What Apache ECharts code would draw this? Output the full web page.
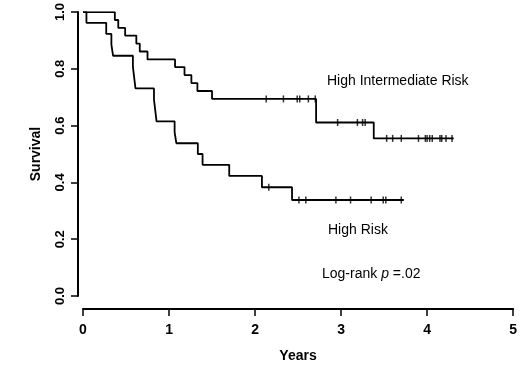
<!DOCTYPE html>
<html>
<head>
<meta charset="utf-8">
<script src="https://cdn.jsdelivr.net/npm/echarts@6/dist/echarts.min.js"></script>
<style>html,body{margin:0;padding:0;background:#fff}#c{width:520px;height:370px}</style>
</head>
<body>
<div id="c"></div>
<script>
// High Intermediate Risk: event times (years) and survival after each step
var hiTimes = [0, 0.37, 0.41, 0.49, 0.62, 0.66, 0.75, 1.07, 1.18, 1.26, 1.33, 1.50, 2.71, 3.38, 4.31];
var hiSurv  = [1.0, 0.972, 0.944, 0.917, 0.889, 0.861, 0.833, 0.806, 0.778, 0.750, 0.722, 0.694, 0.611, 0.555, 0.555];
// High Risk
var hrTimes = [0, 0.04, 0.27, 0.33, 0.35, 0.58, 0.595, 0.61, 0.825, 0.84, 0.855, 1.065, 1.085, 1.335, 1.39, 1.70, 2.08, 2.43, 3.73];
var hrSurv  = [1.0, 0.962, 0.923, 0.885, 0.846, 0.808, 0.769, 0.731, 0.692, 0.654, 0.615, 0.577, 0.538, 0.500, 0.462, 0.423, 0.383, 0.338, 0.338];
// Censoring marks
var hiCensT = [2.13, 2.33, 2.49, 2.52, 2.62, 2.70, 2.96, 3.19, 3.25, 3.28, 3.53, 3.60, 3.70, 3.90, 3.98, 4.00, 4.03, 4.06, 4.15, 4.17, 4.22, 4.29];
var hiCensS = [0.694, 0.694, 0.694, 0.694, 0.694, 0.694, 0.611, 0.611, 0.611, 0.611, 0.555, 0.555, 0.555, 0.555, 0.555, 0.555, 0.555, 0.555, 0.555, 0.555, 0.555, 0.555];
var hrCensT = [2.16, 2.51, 2.59, 2.94, 3.11, 3.35, 3.49, 3.52, 3.70];
var hrCensS = [0.383, 0.338, 0.338, 0.338, 0.338, 0.338, 0.338, 0.338, 0.338];
// Axis ticks
var xTicks = [0, 1, 2, 3, 4, 5];
var yTicks = ['0.0', '0.2', '0.4', '0.6', '0.8', '1.0'];

function zip(a, b) { return a.map(function (v, i) { return [v, b[i]]; }); }

var FONT = '"Liberation Sans", Arial, sans-serif';
var chart = echarts.init(document.getElementById('c'), null, { renderer: 'canvas' });
chart.setOption({
  animation: false,
  backgroundColor: '#fff',
  grid: { left: 83, right: 5, top: 12, bottom: 74 },
  xAxis: {
    type: 'value', min: 0, max: 5, interval: 1,
    offset: 13,
    name: 'Years', nameLocation: 'middle', nameGap: 40,
    nameTextStyle: { fontFamily: FONT, fontWeight: 'bold', fontSize: 14, color: '#000' },
    axisLine: { show: true, onZero: false, lineStyle: { color: '#000', width: 2 } },
    axisTick: { show: true, length: 7, inside: false, lineStyle: { color: '#000', width: 1.5 } },
    axisLabel: { fontFamily: FONT, fontWeight: 'bold', fontSize: 14, color: '#000', margin: 14,
      formatter: function (v) { return xTicks.indexOf(v) >= 0 ? String(v) : ''; } },
    splitLine: { show: false }
  },
  yAxis: {
    type: 'value', min: 0, max: 1, interval: 0.2,
    offset: 5,
    name: 'Survival', nameLocation: 'middle', nameGap: 35, nameRotate: 90,
    nameTextStyle: { fontFamily: FONT, fontWeight: 'bold', fontSize: 14, color: '#000' },
    axisLine: { show: true, onZero: false, lineStyle: { color: '#000', width: 2 } },
    axisTick: { show: true, length: 7, inside: false, lineStyle: { color: '#000', width: 1.5 } },
    axisLabel: { fontFamily: FONT, fontWeight: 'bold', fontSize: 13, color: '#000', rotate: 90, margin: 11,
      formatter: function (v) { return yTicks[Math.round(v * 5)]; } },
    splitLine: { show: false }
  },
  series: [
    { type: 'line', step: 'end', data: zip(hiTimes, hiSurv), showSymbol: false, symbol: 'none',
      lineStyle: { color: '#000', width: 1.8 }, z: 3 },
    { type: 'line', step: 'end', data: zip(hrTimes, hrSurv), showSymbol: false, symbol: 'none',
      lineStyle: { color: '#000', width: 1.8 }, z: 3 },
    { type: 'scatter', data: zip(hiCensT, hiCensS), symbol: 'rect', symbolSize: [1.5, 7],
      itemStyle: { color: '#000' }, z: 4 },
    { type: 'scatter', data: zip(hrCensT, hrCensS), symbol: 'rect', symbolSize: [1.5, 7],
      itemStyle: { color: '#000' }, z: 4 }
  ],
  graphic: [
    { type: 'text', left: 327, top: 74, style: { text: 'High Intermediate Risk', font: '14px ' + FONT, fill: '#000' } },
    { type: 'text', left: 328, top: 223, style: { text: 'High Risk', font: '14px ' + FONT, fill: '#000' } },
    { type: 'text', left: 322, top: 267, style: {
        text: '{a|Log-rank }{b|p}{a| =.02}',
        rich: {
          a: { fontFamily: FONT, fontSize: 14, fill: '#000', color: '#000' },
          b: { fontFamily: FONT, fontSize: 14, fontStyle: 'italic', fill: '#000', color: '#000' }
        } } }
  ]
});
</script>
</body>
</html>
